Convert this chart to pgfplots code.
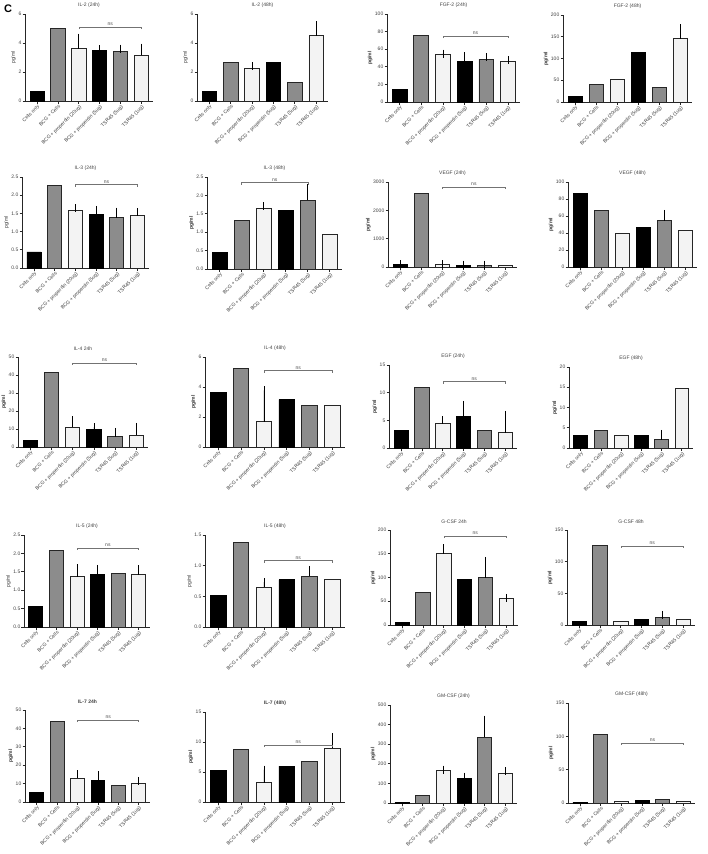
\documentclass[border=0pt]{standalone}
\usepackage{pgfplots}
\pgfplotsset{compat=1.18}
\usepackage{fontspec}
\setmainfont{Liberation Sans}
\definecolor{gry}{HTML}{8C8C8C}
\definecolor{ltc}{HTML}{F3F3F3}
\definecolor{edge}{HTML}{262626}
\newcommand{\fs}{\fontsize{5}{6}\selectfont}
\pgfplotsset{
  panel/.style={
    scale only axis, anchor=north west,
    axis x line*=bottom, axis y line*=left,
    axis line style={-, line width=0.9pt, edge},
    xmin=-0.58, xmax=5.55, ymin=0,
    xtick={0,...,5},
    xticklabels={Cells only, BCG + Cells, BCG + properdin (20ug), BCG + properdin (5ug), TSR45 (5ug), TSR45 (1ug)},
    x tick label style={rotate=45, anchor=north east, font=\fs, inner sep=0.5pt, text=black!75},
    y tick label style={font=\fs, inner sep=1pt, text=black!75},
    /pgf/number format/assume math mode=true,
    /pgf/number format/1000 sep={},
    tick align=outside, major tick length=2.5pt,
    tick style={line width=0.8pt, edge},
    ybar=0pt, bar shift=0pt, bar width=0.68,
    title style={font=\fs, text=black!75, yshift=-3.5pt},
    ylabel=pg/ml,
    ylabel style={font=\fs\bfseries, text=black!80, yshift=-2pt},
    clip=false,
    error bars/y dir=plus, error bars/y explicit,
    error bars/error bar style={line width=0.8pt, black},
    error bars/error mark options={line width=0.8pt, mark size=4pt, black},
  },
  nb/.style={ylabel style={font=\fs\mdseries}},
  dec/.style={yticklabel style={/pgf/number format/.cd, fixed, fixed zerofill, precision=1}},
  blk/.style={fill=black, draw=black, line width=0.9pt, bar shift=0pt},
  gr/.style={fill=gry, draw=edge, line width=0.9pt, bar shift=0pt},
  lt/.style={fill=ltc, draw=edge, line width=0.9pt, bar shift=0pt},
}
\newcommand{\ns}[3]{\draw[black!55, line width=0.6pt] (axis cs:#1,#3) ++(0pt,-2pt) -- (axis cs:#1,#3) -- node[above, font=\fs, inner sep=1pt, text=black!70] {ns} (axis cs:#2,#3) -- ++(0pt,-2pt);}
\begin{document}
\begin{tikzpicture}
\path[use as bounding box] (0,0) rectangle (708pt,-854pt);
\node[anchor=north west, inner sep=0pt, font=\fontsize{11}{12}\selectfont\bfseries] at (4pt,-5pt) {C};
% Row 1
\begin{axis}[panel, nb, at={(25pt,-14pt)}, width=128pt, height=87pt, ymax=6, ytick={0,2,4,6}, title={IL-2 (24h)}]
\addplot[blk] coordinates {(0,0.64) (3,3.47) +- (0,0.1)};
\addplot[gr] coordinates {(1,5.02) (4,3.40) +- (0,0.21)};
\addplot[lt] coordinates {(2,3.6) +- (0,0.77) (5,3.15) +- (0,0.53)};
\ns{2}{5}{5.1}
\end{axis}
\begin{axis}[panel, nb, at={(197pt,-14pt)}, width=131pt, height=87pt, ymax=6, ytick={0,2,4,6}, title={IL-2 (48h)}]
\addplot[blk] coordinates {(0,0.66) (3,2.64)};
\addplot[gr] coordinates {(1,2.64) (4,1.26)};
\addplot[lt] coordinates {(2,2.25) +- (0,0.14) (5,4.5) +- (0,0.74)};
\end{axis}
\begin{axis}[panel, at={(387pt,-14pt)}, width=133pt, height=88pt, ymax=100, ytick={0,20,...,100}, title={FGF-2 (24h)}]
\addplot[blk] coordinates {(0,14) (3,46) +- (0,6)};
\addplot[gr] coordinates {(1,76) (4,48.5) +- (0,2.5)};
\addplot[lt] coordinates {(2,53.5) +- (0,1.5) (5,46.5) +- (0,0.8)};
\ns{2}{5}{75}
\end{axis}
\begin{axis}[panel, at={(563pt,-15pt)}, width=129pt, height=87pt, ymax=200, ytick={0,50,...,200}, title={FGF-2 (48h)}]
\addplot[blk] coordinates {(0,13) (3,114.5)};
\addplot[gr] coordinates {(1,40) (4,34)};
\addplot[lt] coordinates {(2,51) (5,145) +- (0,24)};
\end{axis}
% Row 2
\begin{axis}[panel, nb, dec, at={(22pt,-177pt)}, width=127pt, height=91pt, ymax=2.5, ytick={0,0.5,...,2.5}, title={IL-3 (24h)}]
\addplot[blk] coordinates {(0,0.44) (3,1.48) +- (0,0.12)};
\addplot[gr] coordinates {(1,2.27) (4,1.38) +- (0,0.17)};
\addplot[lt] coordinates {(2,1.58) +- (0,0.06) (5,1.44) +- (0,0.09)};
\ns{2}{5}{2.29}
\end{axis}
\begin{axis}[panel, dec, at={(207pt,-177pt)}, width=135pt, height=92pt, ymax=2.5, ytick={0,0.5,...,2.5}, title={IL-3 (48h)}]
\addplot[blk] coordinates {(0,0.45) (3,1.6)};
\addplot[gr] coordinates {(1,1.31) (4,1.87) +- (0,0.32)};
\addplot[lt] coordinates {(2,1.64) +- (0,0.07) (5,0.94)};
\ns{1}{4}{2.35}
\end{axis}
\begin{axis}[panel, at={(388pt,-182pt)}, width=129pt, height=85pt, ymax=3000, ytick={0,1000,2000,3000}, title={VEGF (24h)}]
\addplot[blk] coordinates {(0,80) +- (0,10) (3,70) +- (0,10)};
\addplot[gr] coordinates {(1,2610) (4,65) +- (0,15)};
\addplot[lt] coordinates {(2,85) +- (0,10) (5,50)};
\ns{2}{5}{2820}
\end{axis}
\begin{axis}[panel, at={(568pt,-182pt)}, width=129pt, height=85pt, ymax=100, ytick={0,20,...,100}, title={VEGF (48h)}]
\addplot[blk] coordinates {(0,86) (3,46)};
\addplot[gr] coordinates {(1,66.5) (4,54.5) +- (0,8)};
\addplot[lt] coordinates {(2,39.5) (5,43)};
\end{axis}
% Row 3
\begin{axis}[panel, at={(18pt,-357pt)}, width=130pt, height=90pt, ymax=50, ytick={0,10,...,50}, title={IL-4 24h}]
\addplot[blk] coordinates {(0,3.5) (3,9.5) +- (0,1.5)};
\addplot[gr] coordinates {(1,41.3) (4,5.6) +- (0,2.8)};
\addplot[lt] coordinates {(2,11) +- (0,4) (5,6.6) +- (0,4.6)};
\ns{2}{5}{46.7}
\end{axis}
\begin{axis}[panel, at={(205pt,-357pt)}, width=140pt, height=90pt, ymax=6, ytick={0,2,4,6}, title={IL-4 (48h)}]
\addplot[blk] coordinates {(0,3.64) (3,3.16)};
\addplot[gr] coordinates {(1,5.24) (4,2.78)};
\addplot[lt] coordinates {(2,1.69) +- (0,2.09) (5,2.78)};
\ns{2}{5}{5.1}
\end{axis}
\begin{axis}[panel, at={(389pt,-365pt)}, width=128pt, height=83pt, ymax=15, ytick={0,5,10,15}, title={EGF (24h)}]
\addplot[blk] coordinates {(0,3.1) (3,5.7) +- (0,2.1)};
\addplot[gr] coordinates {(1,10.9) (4,3.1)};
\addplot[lt] coordinates {(2,4.4) +- (0,0.6) (5,2.8) +- (0,3.2)};
\ns{2}{5}{12}
\end{axis}
\begin{axis}[panel, at={(569pt,-367pt)}, width=124pt, height=81pt, ymax=20, ytick={0,5,...,20}, title={EGF (48h)}]
\addplot[blk] coordinates {(0,3) (3,3)};
\addplot[gr] coordinates {(1,4.4) (4,2.1) +- (0,1.4)};
\addplot[lt] coordinates {(2,3) (5,14.7)};
\end{axis}
% Row 4
\begin{axis}[panel, nb, dec, at={(24pt,-535pt)}, width=126pt, height=92pt, ymax=2.5, ytick={0,0.5,...,2.5}, title={IL-5 (24h)}]
\addplot[blk] coordinates {(0,0.55) (3,1.43) +- (0,0.15)};
\addplot[gr] coordinates {(1,2.07) (4,1.45)};
\addplot[lt] coordinates {(2,1.37) +- (0,0.22) (5,1.42) +- (0,0.15)};
\ns{2}{5}{2.15}
\end{axis}
\begin{axis}[panel, nb, dec, at={(205pt,-535pt)}, width=140pt, height=92pt, ymax=1.5, ytick={0,0.5,1.0,1.5}, title={IL-5 (48h)}]
\addplot[blk] coordinates {(0,0.52) (3,0.77)};
\addplot[gr] coordinates {(1,1.38) (4,0.83) +- (0,0.1)};
\addplot[lt] coordinates {(2,0.65) +- (0,0.08) (5,0.77)};
\ns{2}{5}{1.08}
\end{axis}
\begin{axis}[panel, at={(390pt,-530pt)}, width=128pt, height=95pt, ymax=200, ytick={0,50,...,200}, title={G-CSF 24h}]
\addplot[blk] coordinates {(0,5) (3,95)};
\addplot[gr] coordinates {(1,68) (4,100) +- (0,35)};
\addplot[lt] coordinates {(2,150) +- (0,12) (5,55) +- (0,2)};
\ns{2}{5}{187}
\end{axis}
\begin{axis}[panel, at={(567pt,-530pt)}, width=128pt, height=95pt, ymax=150, ytick={0,50,100,150}, title={G-CSF 48h}]
\addplot[blk] coordinates {(0,5) (3,9)};
\addplot[gr] coordinates {(1,125) (4,12) +- (0,4)};
\addplot[lt] coordinates {(2,6) (5,8)};
\ns{2}{5}{125}
\end{axis}
% Row 5
\begin{axis}[panel, at={(25pt,-710pt)}, width=125pt, height=92pt, ymax=50, ytick={0,10,...,50}, title={\bfseries IL-7 24h}]
\addplot[blk] coordinates {(0,5) (3,11.5) +- (0,3)};
\addplot[gr] coordinates {(1,44) (4,9)};
\addplot[lt] coordinates {(2,13) +- (0,2) (5,10) +- (0,1.5)};
\ns{2}{5}{44.5}
\end{axis}
\begin{axis}[panel, at={(205pt,-712pt)}, width=140pt, height=90pt, ymax=15, ytick={0,5,10,15}, title={\bfseries IL-7 (48h)}]
\addplot[blk] coordinates {(0,5.2) (3,6)};
\addplot[gr] coordinates {(1,8.8) (4,6.8)};
\addplot[lt] coordinates {(2,3.2) +- (0,2.2) (5,9) +- (0,1.8)};
\ns{2}{5}{9.5}
\end{axis}
\begin{axis}[panel, at={(390pt,-705pt)}, width=127pt, height=98pt, ymax=500, ytick={0,100,...,500}, title={GM-CSF (24h)}]
\addplot[blk] coordinates {(0,2) (3,125) +- (0,10)};
\addplot[gr] coordinates {(1,40) (4,335) +- (0,90)};
\addplot[lt] coordinates {(2,165) +- (0,5) (5,150) +- (0,12)};
\end{axis}
\begin{axis}[panel, at={(568pt,-703pt)}, width=127pt, height=100pt, ymax=150, ytick={0,50,100,150}, title={GM-CSF (48h)}]
\addplot[blk] coordinates {(0,1) (3,4)};
\addplot[gr] coordinates {(1,103) (4,5)};
\addplot[lt] coordinates {(2,3) (5,3)};
\ns{2}{5}{90}
\end{axis}
\end{tikzpicture}
\end{document}
